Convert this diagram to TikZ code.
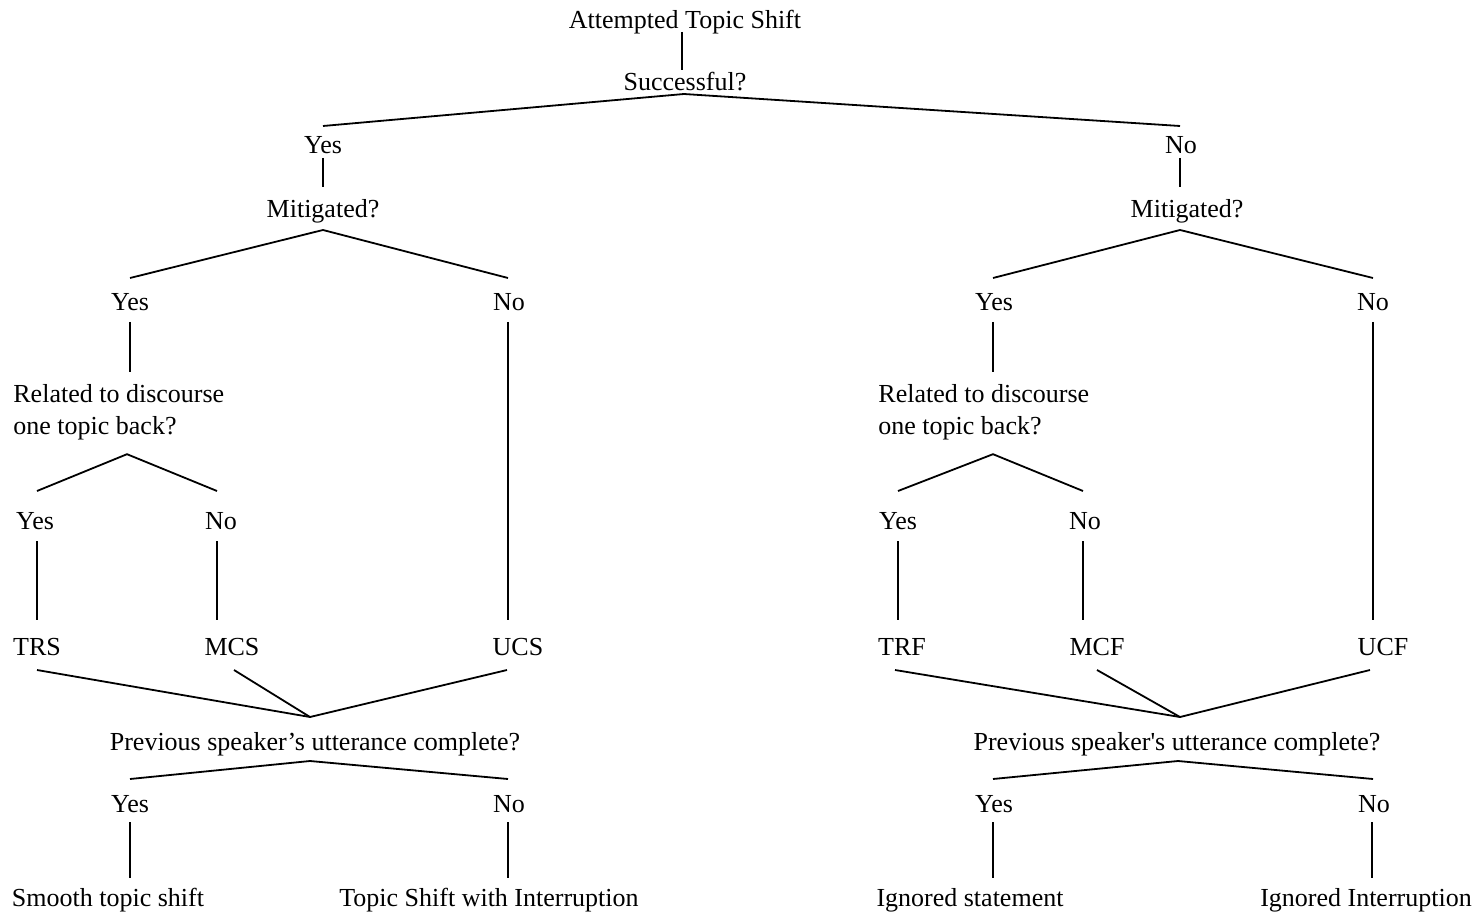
\documentclass[tikz,border=0pt]{standalone}
\usepackage{fontspec}
\setmainfont{Liberation Serif}
\newfontfamily\rawserif{Liberation Serif}
\usetikzlibrary{calc}
\newcommand{\fs}{\fontsize{13}{16}\selectfont}
\tikzset{
  lbl/.style={inner sep=0pt, text height=9pt, text depth=2.5pt, font=\fs},
  multi/.style={inner sep=0pt, align=left, font=\fs, anchor=west},
  link/.style={line width=0.9pt, line cap=butt},
}
\begin{document}
\begin{tikzpicture}[x=0.5pt,y=-0.5pt]
\useasboundingbox (0,0) rectangle (1481,914);
% ---------- nodes ----------
\node[lbl] (ats)  at (685,22) {Attempted Topic Shift};
\node[lbl] (succ) at (685,84) {Successful?};
\node[lbl] (yes1) at (323,147) {Yes};
\node[lbl] (no1)  at (1181,147) {No};
\node[lbl] (mitL) at (323,211) {Mitigated?};
\node[lbl] (mitR) at (1187,211) {Mitigated?};
% left branch
\node[lbl] (yes2L) at (130,304) {Yes};
\node[lbl] (no2L)  at (509,304) {No};
\node[multi] (relL) at (13,412) {Related to discourse\\one topic back?};
\node[lbl] (yes3L) at (35,523) {Yes};
\node[lbl] (no3L)  at (221,523) {No};
\node[lbl] (trs) at (37,649) {TRS};
\node[lbl] (mcs) at (232,649) {MCS};
\node[lbl] (ucs) at (518,649) {UCS};
\node[lbl] (prevL) at (315,744) {Previous speaker's utterance complete?};
\node[lbl] (yes4L) at (130,806) {Yes};
\node[lbl] (no4L)  at (509,806) {No};
\node[lbl] (smooth) at (108,900) {Smooth topic shift};
\node[lbl] (tswi)   at (489,900) {Topic Shift with Interruption};
% right branch
\node[lbl] (yes2R) at (994,304) {Yes};
\node[lbl] (no2R)  at (1373,304) {No};
\node[multi] (relR) at (878,412) {Related to discourse\\one topic back?};
\node[lbl] (yes3R) at (898,523) {Yes};
\node[lbl] (no3R)  at (1085,523) {No};
\node[lbl] (trf) at (902,649) {TRF};
\node[lbl] (mcf) at (1097,649) {MCF};
\node[lbl] (ucf) at (1383,649) {UCF};
\node[lbl] (prevR) at (1177,744) {Previous speaker{\rawserif '}s utterance complete?};
\node[lbl] (yes4R) at (994,806) {Yes};
\node[lbl] (no4R)  at (1374,806) {No};
\node[lbl] (ign)  at (970,900) {Ignored statement};
\node[lbl] (ignI) at (1366,900) {Ignored Interruption};
% ---------- connectors ----------
\draw[link] ($(ats)+(-3,10)$) -- ($(succ)+(-3,-14)$);
\draw[link] ($(yes1)+(0,-21)$) -- ($(succ)+(-1,10)$) -- ($(no1)+(-1,-21)$);
\draw[link] ($(yes1)+(0,11)$) -- ($(mitL)+(0,-24)$);
\draw[link] ($(no1)+(-1,11)$) -- ($(mitR)+(-7,-24)$);
% left
\draw[link] ($(yes2L)+(0,-26)$) -- ($(mitL)+(0,19)$) -- ($(no2L)+(-1,-26)$);
\draw[link] ($(yes2L)+(0,18)$) -- ($(yes2L|-relL.north)+(0,-12)$);
\draw[link] ($(yes3L)+(2,-32)$) -- ($(relL.south west)+(114,14)$) -- ($(no3L)+(-4,-32)$);
\draw[link] ($(yes3L)+(2,18)$) -- ($(trs)+(0,-29)$);
\draw[link] ($(no3L)+(-4,18)$) -- ($(mcs)+(-15,-29)$);
\draw[link] ($(no2L)+(-1,18)$) -- ($(ucs)+(-10,-29)$);
\draw[link] ($(trs)+(0,21)$) -- ($(prevL)+(-5,-27)$);
\draw[link] ($(mcs)+(2,21)$) -- ($(prevL)+(-5,-27)$);
\draw[link] ($(ucs)+(-11,21)$) -- ($(prevL)+(-5,-27)$);
\draw[link] ($(yes4L)+(0,-27)$) -- ($(prevL)+(-5,17)$) -- ($(no4L)+(-1,-27)$);
\draw[link] ($(yes4L)+(0,16)$) -- ($(smooth)+(22,-22)$);
\draw[link] ($(no4L)+(-1,16)$) -- ($(tswi)+(19,-22)$);
% right
\draw[link] ($(yes2R)+(-1,-26)$) -- ($(mitR)+(-7,19)$) -- ($(no2R)+(0,-26)$);
\draw[link] ($(yes2R)+(-1,18)$) -- ($(yes2R|-relR.north)+(-1,-12)$);
\draw[link] ($(yes3R)+(0,-32)$) -- ($(relR.south west)+(115,14)$) -- ($(no3R)+(-2,-32)$);
\draw[link] ($(yes3R)+(0,18)$) -- ($(trf)+(-4,-29)$);
\draw[link] ($(no3R)+(-2,18)$) -- ($(mcf)+(-14,-29)$);
\draw[link] ($(no2R)+(0,18)$) -- ($(ucf)+(-10,-29)$);
\draw[link] ($(trf)+(-7,21)$) -- ($(prevR)+(3,-27)$);
\draw[link] ($(mcf)+(0,21)$) -- ($(prevR)+(3,-27)$);
\draw[link] ($(ucf)+(-13,21)$) -- ($(prevR)+(3,-27)$);
\draw[link] ($(yes4R)+(-1,-27)$) -- ($(prevR)+(1,17)$) -- ($(no4R)+(-1,-27)$);
\draw[link] ($(yes4R)+(-1,16)$) -- ($(ign)+(23,-22)$);
\draw[link] ($(no4R)+(-2,16)$) -- ($(ignI)+(6,-22)$);
\end{tikzpicture}
\end{document}
